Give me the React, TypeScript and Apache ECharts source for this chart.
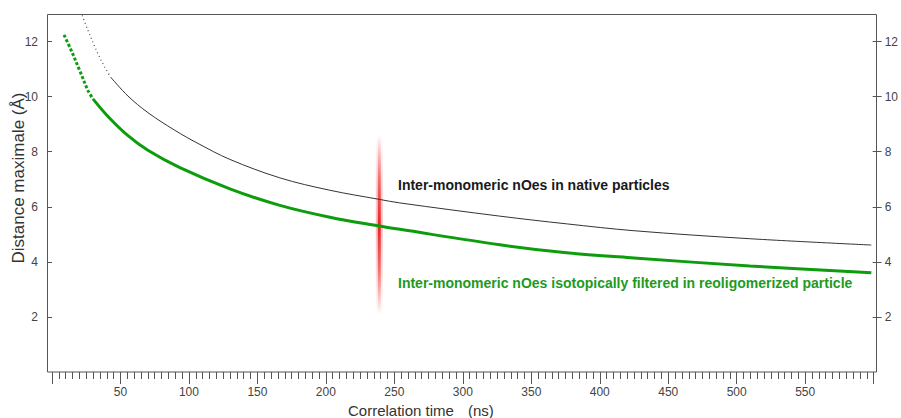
import React, { useEffect, useRef } from "react";
import * as echarts from "echarts";

// Native particles (black) – dotted upper part then solid curve
const nativeDottedX = [22.1, 26.3, 33.6, 38.5, 42.8];
const nativeDottedY = [12.95, 12.4, 11.55, 11.07, 10.71];
const nativeX = [42.8, 55.5, 70, 89.6, 106.6, 129.9, 166.4, 202.9, 238.9, 254, 327, 375.7, 425, 509.5, 598.3];
const nativeY = [10.71, 10.02, 9.42, 8.78, 8.3, 7.72, 7.05, 6.6, 6.27, 6.14, 5.66, 5.38, 5.13, 4.84, 4.61];

// Reoligomerized particle (green)
const reoligoDottedX = [8.8, 14.1, 20.2, 26.3, 29.9];
const reoligoDottedY = [12.24, 11.67, 10.95, 10.22, 9.92];
const reoligoX = [29.9, 40.9, 55.5, 70, 93.4, 129.9, 166.4, 202.9, 238.9, 254, 327, 375.7, 425, 509.5, 598.3];
const reoligoY = [9.92, 9.28, 8.58, 8.05, 7.42, 6.65, 6.05, 5.62, 5.3, 5.18, 4.62, 4.33, 4.14, 3.85, 3.6];

// Red marker band at the correlation time of interest
const markerTime = [239];
const markerTop = [8.6];
const markerBottom = [2.1];

const yTickValues = [2, 4, 6, 8, 10, 12];

const FONT = '"Liberation Sans", Arial, Helvetica, sans-serif';

const zip = (xs: number[], ys: number[]) => xs.map((x, i) => [x, ys[i]]);

export default function App() {
  const ref = useRef<HTMLDivElement>(null);

  useEffect(() => {
    if (!ref.current) return;
    const chart = echarts.init(ref.current, undefined, { renderer: "svg" });

    const yCommon = {
      type: "value" as const,
      min: 0,
      max: 13,
      interval: 2,
      splitLine: { show: false },
      axisLine: { show: false },
    };
    const labelFmt = (v: number) => (v === 0 || v === 13 ? "" : String(v));

    const option: any = {
      animation: false,
      backgroundColor: "#ffffff",
      grid: { left: 52, right: 27, top: 14, bottom: 46 },
      xAxis: {
        type: "value",
        min: 0,
        max: 600,
        interval: 50,
        axisLine: { show: false },
        splitLine: { show: false },
        axisTick: { show: true, length: 12, lineStyle: { color: "#555", width: 1 } },
        minorTick: { show: true, splitNumber: 10, length: 7, lineStyle: { color: "#555", width: 1 } },
        minorSplitLine: { show: false },
        axisLabel: {
          showMinLabel: false,
          showMaxLabel: false,
          margin: 14,
          color: "#444",
          fontSize: 12,
          fontFamily: FONT,
        },
      },
      yAxis: [
        {
          ...yCommon,
          position: "left",
          offset: 4,
          axisTick: { show: true, inside: false, length: 5, customValues: yTickValues, lineStyle: { color: "#555" } },
          axisLabel: { customValues: yTickValues, formatter: labelFmt, margin: 10, color: "#444", fontSize: 12, fontFamily: FONT },
        },
        {
          ...yCommon,
          position: "left",
          offset: 4,
          axisTick: { show: true, inside: true, length: 4, customValues: yTickValues, lineStyle: { color: "#555" } },
          axisLabel: { show: false },
        },
        {
          ...yCommon,
          position: "right",
          offset: 3,
          axisTick: { show: true, inside: false, length: 5, customValues: yTickValues, lineStyle: { color: "#555" } },
          axisLabel: { customValues: yTickValues, formatter: labelFmt, margin: 8, color: "#444", fontSize: 12, fontFamily: FONT },
        },
        {
          ...yCommon,
          position: "right",
          offset: 3,
          axisTick: { show: true, inside: true, length: 4, customValues: yTickValues, lineStyle: { color: "#555" } },
          axisLabel: { show: false },
        },
      ],
      series: [
        {
          type: "custom",
          name: "marker",
          z: 1,
          silent: true,
          encode: { x: 0, y: [1, 2] },
          data: markerTime.map((t, i) => [t, markerTop[i], markerBottom[i]]),
          renderItem: (params: any, api: any) => {
            const top = api.coord([api.value(0), api.value(1)]);
            const bot = api.coord([api.value(0), api.value(2)]);
            const h = bot[1] - top[1];
            return {
              type: "group",
              children: [
                {
                  type: "rect",
                  shape: { x: top[0] - 3.5, y: top[1], width: 7, height: h },
                  style: {
                    fill: new echarts.graphic.LinearGradient(0, 0, 0, 1, [
                      { offset: 0, color: "rgba(245,90,90,0)" },
                      { offset: 0.3, color: "rgba(240,70,70,0.25)" },
                      { offset: 0.5, color: "rgba(240,60,60,0.35)" },
                      { offset: 0.75, color: "rgba(240,70,70,0.2)" },
                      { offset: 1, color: "rgba(245,90,90,0)" },
                    ]),
                  },
                },
                {
                  type: "rect",
                  shape: { x: top[0] - 1.5, y: top[1], width: 3, height: h },
                  style: {
                    fill: new echarts.graphic.LinearGradient(0, 0, 0, 1, [
                      { offset: 0, color: "rgba(235,40,40,0)" },
                      { offset: 0.25, color: "rgba(235,40,40,0.6)" },
                      { offset: 0.5, color: "rgba(232,30,30,0.95)" },
                      { offset: 0.75, color: "rgba(235,40,40,0.6)" },
                      { offset: 1, color: "rgba(235,40,40,0)" },
                    ]),
                  },
                },
              ],
            };
          },
        },
        {
          type: "line",
          name: "native dotted",
          z: 3,
          data: zip(nativeDottedX, nativeDottedY),
          smooth: 0.35,
          symbol: "none",
          lineStyle: { color: "#555", width: 1.3, type: [1, 3] },
        },
        {
          type: "line",
          name: "native",
          z: 3,
          data: zip(nativeX, nativeY),
          smooth: 0.35,
          symbol: "none",
          lineStyle: { color: "#333", width: 1 },
        },
        {
          type: "line",
          name: "reoligo dotted",
          z: 3,
          data: zip(reoligoDottedX, reoligoDottedY),
          smooth: 0.35,
          symbol: "none",
          lineStyle: { color: "#0c9c0c", width: 3, type: [3, 2] },
        },
        {
          type: "line",
          name: "reoligo",
          z: 3,
          data: zip(reoligoX, reoligoY),
          smooth: 0.35,
          symbol: "none",
          lineStyle: { color: "#0c9c0c", width: 3 },
        },
      ],
      graphic: [
        {
          type: "rect",
          silent: true,
          z: -1,
          shape: { x: 47.5, y: 14.5, width: 829, height: 357.5 },
          style: { fill: "none", stroke: "#555", lineWidth: 1 },
        },
        {
          type: "text",
          x: 398,
          y: 185,
          style: {
            text: "Inter-monomeric nOes in native particles",
            font: `bold 14px ${FONT}`,
            fill: "#1a1a1a",
            verticalAlign: "middle",
          },
        },
        {
          type: "text",
          x: 398,
          y: 283,
          style: {
            text: "Inter-monomeric nOes isotopically filtered in reoligomerized particle",
            font: `bold 14px ${FONT}`,
            fill: "#1e9a1e",
            verticalAlign: "middle",
          },
        },
        {
          type: "text",
          x: 348,
          y: 410,
          style: { text: "Correlation time", font: `15px ${FONT}`, fill: "#333", verticalAlign: "middle" },
        },
        {
          type: "text",
          x: 468,
          y: 410,
          style: { text: "(ns)", font: `15px ${FONT}`, fill: "#333", verticalAlign: "middle" },
        },
        {
          type: "text",
          x: 18,
          y: 178,
          rotation: Math.PI / 2,
          style: {
            text: "Distance maximale (Å)",
            font: `17px ${FONT}`,
            fill: "#333",
            align: "center",
            verticalAlign: "middle",
          },
        },
      ],
    };

    chart.setOption(option);
    return () => chart.dispose();
  }, []);

  return (
    <div
      ref={ref}
      style={{ position: "absolute", left: 0, top: 0, width: 901, height: 418, background: "#fff" }}
    />
  );
}
